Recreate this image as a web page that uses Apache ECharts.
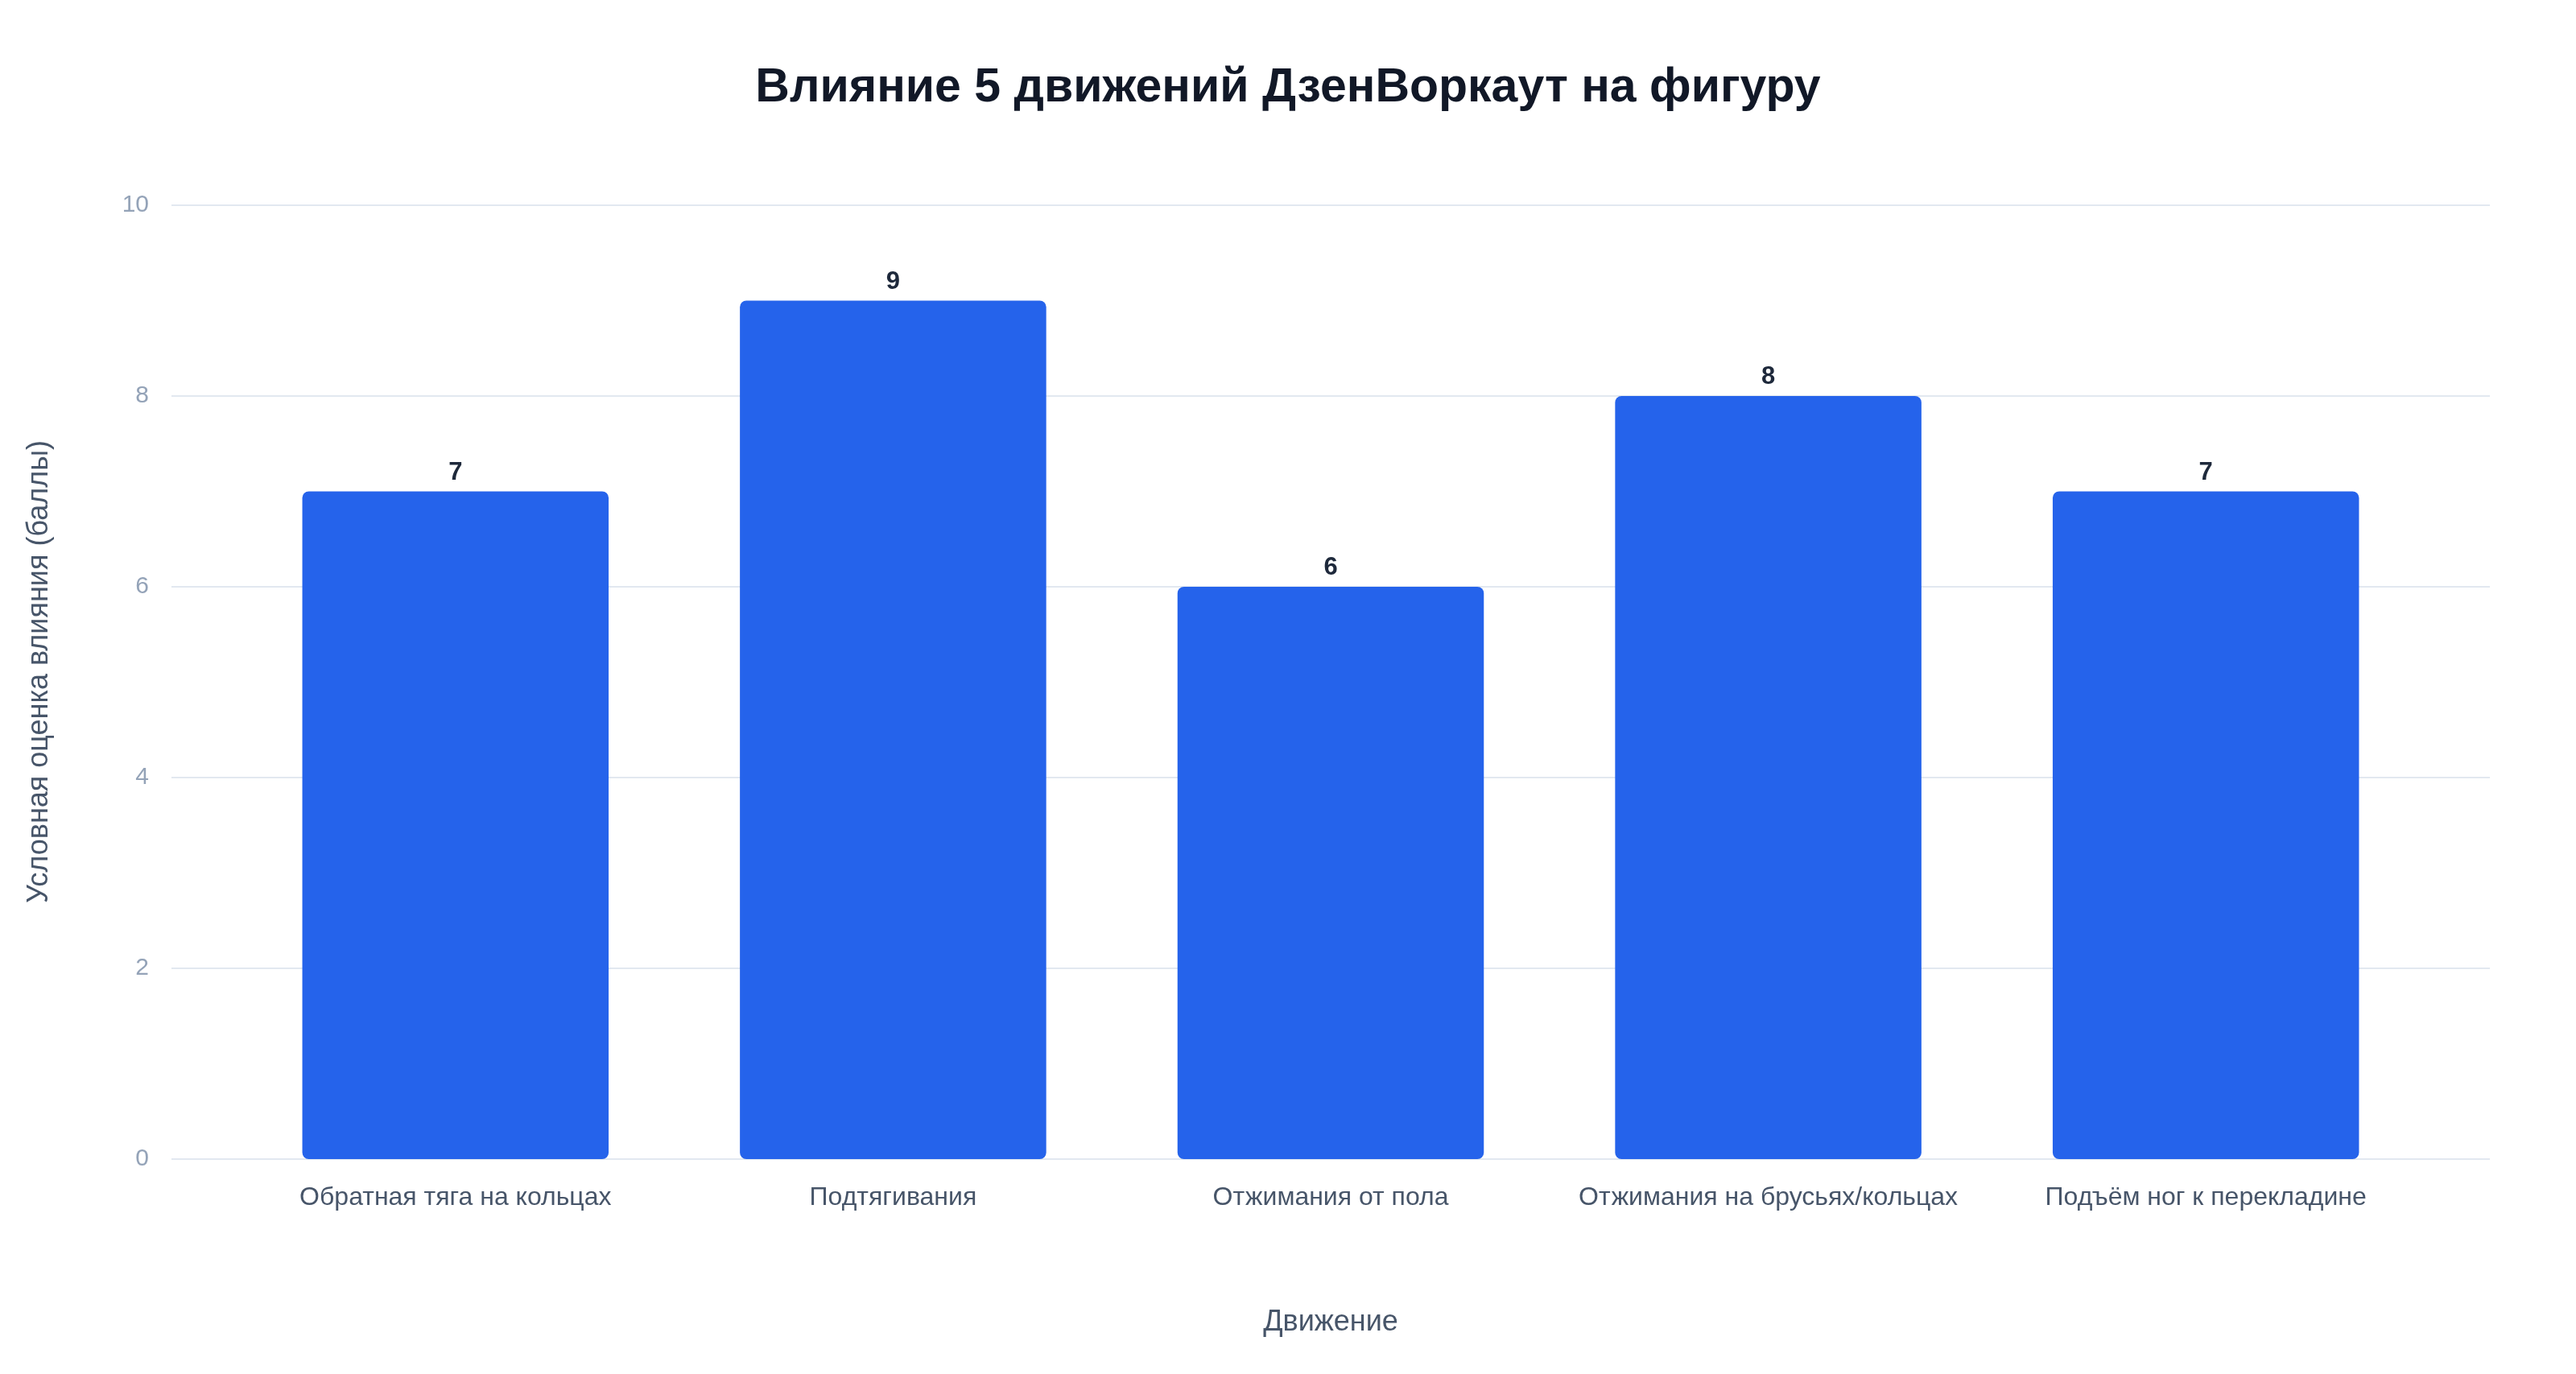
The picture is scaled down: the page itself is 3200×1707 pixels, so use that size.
<!DOCTYPE html>
<html lang="ru">
<head>
    <meta charset="UTF-8">
    <title>Влияние 5 движений ДзенВоркаут на фигуру</title>
    <script src="https://cdn.jsdelivr.net/npm/echarts@6/dist/echarts.min.js"></script>
    <style>
        body {
            margin: 0;
            padding: 0;
            background-color: #ffffff;
        }
        #chart {
            width: 3200px;
            height: 1707px;
        }
    </style>
</head>
<body>

<div id="chart"></div>

<script>
// данные графика
const categories = [
    'Обратная тяга на кольцах',
    'Подтягивания',
    'Отжимания от пола',
    'Отжимания на брусьях/кольцах',
    'Подъём ног к перекладине'
];
const scores = [7, 9, 6, 8, 7];
const yMin = 0;
const yMax = 10;
const yStep = 2;

const font = '"Liberation Sans", Arial, Helvetica, sans-serif';

const chart = echarts.init(document.getElementById('chart'));

chart.setOption({
    backgroundColor: '#ffffff',
    title: {
        text: 'Влияние 5 движений ДзенВоркаут на фигуру',
        left: 'center',
        top: 75,
        textStyle: {
            fontFamily: font,
            fontSize: 59,
            fontWeight: 'bold',
            color: '#111827'
        }
    },
    // две сетки: широкая для линий сетки, узкая для столбцов
    grid: [
        { left: 213, right: 107, top: 255, bottom: 267 },
        { left: 294, right: 188, top: 255, bottom: 267 }
    ],
    xAxis: [
        {
            gridIndex: 0,
            type: 'category',
            data: categories,
            show: false
        },
        {
            gridIndex: 1,
            type: 'category',
            data: categories,
            name: 'Движение',
            nameLocation: 'middle',
            nameGap: 185,
            nameTextStyle: {
                fontFamily: font,
                fontSize: 36,
                color: '#475569'
            },
            axisLine: { show: false },
            axisTick: { show: false },
            axisLabel: {
                interval: 0,
                margin: 32,
                fontFamily: font,
                fontSize: 32,
                color: '#475569'
            }
        }
    ],
    yAxis: [
        {
            gridIndex: 0,
            type: 'value',
            min: yMin,
            max: yMax,
            interval: yStep,
            name: 'Условная оценка влияния (баллы)',
            nameLocation: 'middle',
            nameGap: 146,
            nameTextStyle: {
                fontFamily: font,
                fontSize: 36,
                color: '#475569',
                padding: [0, 0, 0, 26]
            },
            axisLine: { show: false },
            axisTick: { show: false },
            axisLabel: {
                margin: 28,
                fontFamily: font,
                fontSize: 30,
                color: '#94a3b8'
            },
            splitLine: {
                lineStyle: { color: '#e2e8f0', width: 2 }
            }
        },
        {
            gridIndex: 1,
            type: 'value',
            min: yMin,
            max: yMax,
            interval: yStep,
            show: false,
            splitLine: { show: false }
        }
    ],
    series: [{
        type: 'bar',
        xAxisIndex: 1,
        yAxisIndex: 1,
        data: scores,
        barCategoryGap: '30%',
        itemStyle: {
            color: '#2563eb',
            borderRadius: 8
        },
        label: {
            show: true,
            position: 'top',
            distance: 8,
            fontFamily: font,
            fontSize: 31,
            fontWeight: 'bold',
            color: '#1e293b'
        }
    }]
});
</script>

</body>
</html>
